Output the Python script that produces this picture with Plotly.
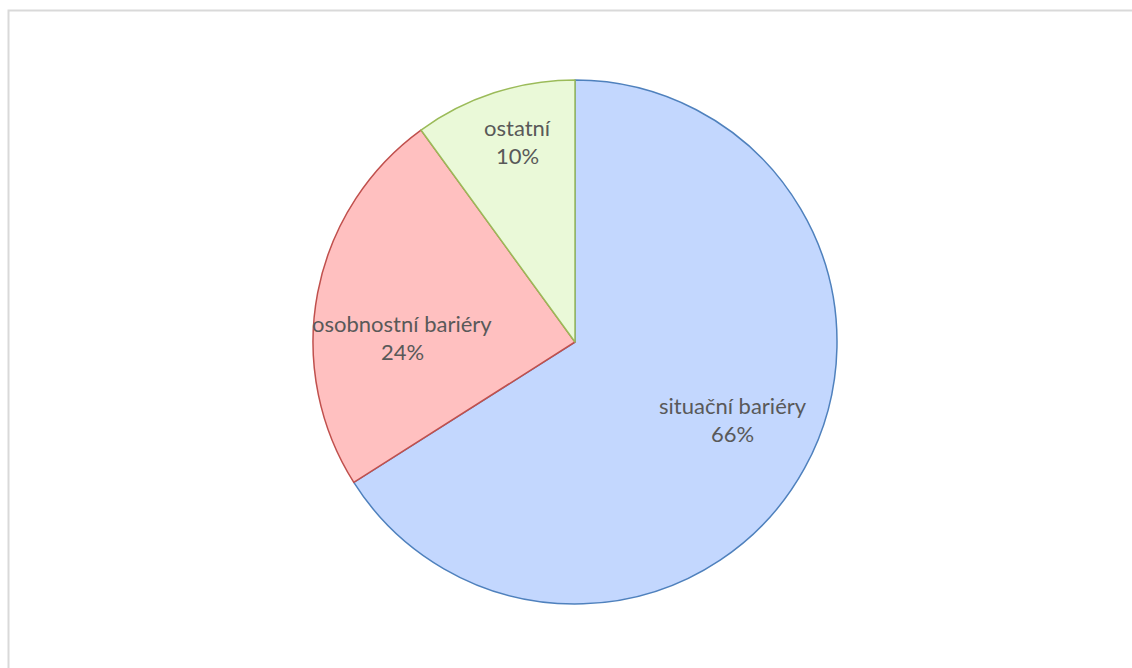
import math
import plotly.graph_objects as go

categories = ["situační bariéry", "osobnostní bariéry", "ostatní"]
values = [66, 24, 10]
fill_colors = ["#C3D7FE", "#FFC0C0", "#EAF9D8"]
line_colors = ["#4F81BD", "#C0504D", "#9BBB59"]

W, H = 1132, 668
cx, cy, R = 575, 342, 262

fig = go.Figure()
fig.add_trace(go.Pie(
    labels=categories,
    values=values,
    sort=False,
    direction="clockwise",
    rotation=0,
    marker=dict(colors=fill_colors, line=dict(color=line_colors, width=1.5)),
    textinfo="none",
    domain=dict(x=[(cx - R) / W, (cx + R) / W], y=[1 - (cy + R) / H, 1 - (cy - R) / H]),
    showlegend=False,
    hoverinfo="label+percent",
))

# label placement (angle offset in degrees, radius fraction) per slice
label_adjust = [(-2.0, 0.675), (-10.0, 0.66), (2.0, 0.79)]
total = sum(values)
annotations = []
cum = 0
for lab, v, (da, rf) in zip(categories, values, label_adjust):
    mid = (cum + v / 2) / total * 360 + da
    cum += v
    px = cx + rf * R * math.sin(math.radians(mid))
    py = cy - rf * R * math.cos(math.radians(mid))
    pct = f"{round(v / total * 100)}%"
    for txt, shift in ((lab, 16), (pct, -12)):
        annotations.append(dict(
            x=px / W, y=1 - py / H, xref="paper", yref="paper",
            text=txt, showarrow=False, yshift=shift,
            xanchor="center", yanchor="middle",
            font=dict(family="Lato", size=22, color="#595959"),
        ))

fig.update_layout(
    width=W, height=H,
    margin=dict(l=0, r=0, t=0, b=0),
    paper_bgcolor="white",
    plot_bgcolor="white",
    annotations=annotations,
    shapes=[dict(type="rect", xref="paper", yref="paper",
                 x0=8.5 / W, x1=1.05, y0=-0.05, y1=1 - 10.5 / H,
                 line=dict(color="#D9D9D9", width=2), fillcolor="rgba(0,0,0,0)")],
)

fig.write_html("out.html")
